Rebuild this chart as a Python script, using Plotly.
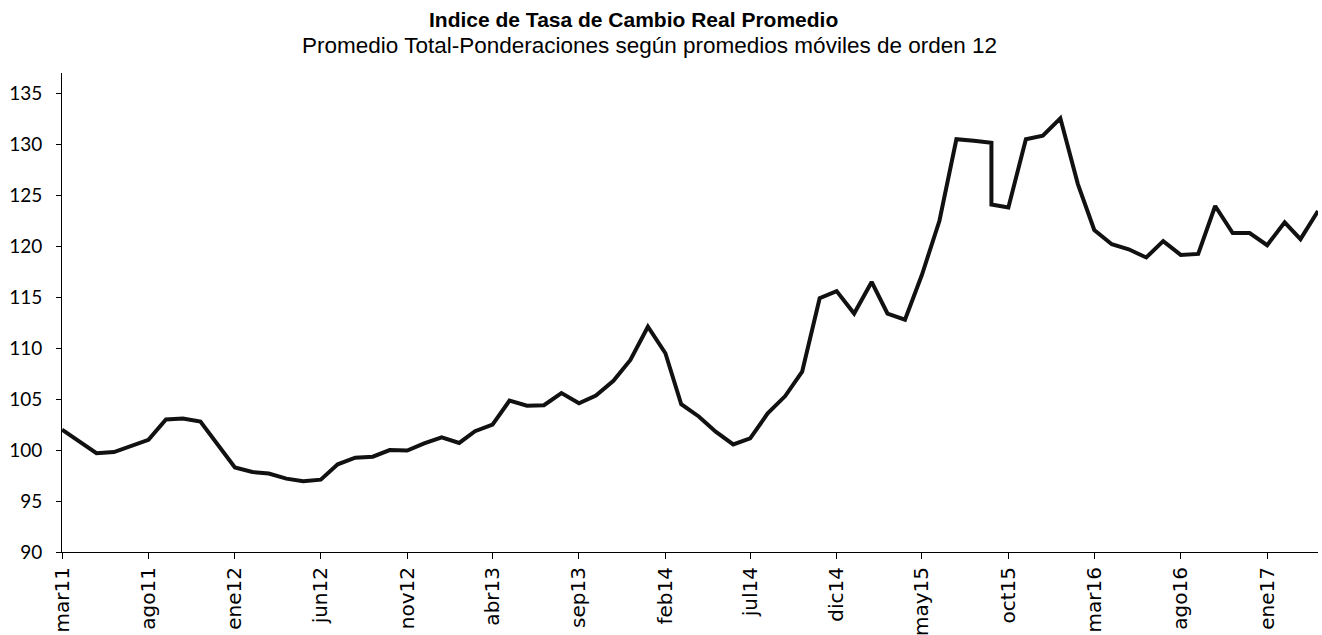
import plotly.graph_objects as go

# Periodos mensuales (sep-2015 aparece dos veces: cambio de nivel en el mismo mes)
periodos = [
    "2011-03", "2011-04", "2011-05", "2011-06", "2011-07", "2011-08", "2011-09", "2011-10", "2011-11", "2011-12",
    "2012-01", "2012-02", "2012-03", "2012-04", "2012-05", "2012-06", "2012-07", "2012-08", "2012-09", "2012-10",
    "2012-11", "2012-12", "2013-01", "2013-02", "2013-03", "2013-04", "2013-05", "2013-06", "2013-07", "2013-08",
    "2013-09", "2013-10", "2013-11", "2013-12", "2014-01", "2014-02", "2014-03", "2014-04", "2014-05", "2014-06",
    "2014-07", "2014-08", "2014-09", "2014-10", "2014-11", "2014-12", "2015-01", "2015-02", "2015-03", "2015-04",
    "2015-05", "2015-06", "2015-07", "2015-08", "2015-09", "2015-09", "2015-10", "2015-11", "2015-12", "2016-01",
    "2016-02", "2016-03", "2016-04", "2016-05", "2016-06", "2016-07", "2016-08", "2016-09", "2016-10", "2016-11",
    "2016-12", "2017-01", "2017-02", "2017-03", "2017-04",
]

# Indice de tipo de cambio real promedio
itcr = [
    102.0, 100.8, 99.7, 99.8, 100.35, 101.0, 103.0, 103.1, 102.8, 100.65,
    98.3, 97.85, 97.7, 97.2, 96.95, 97.1, 98.6, 99.25, 99.35, 100.0,
    99.95, 100.65, 101.25, 100.7, 101.85, 102.5, 104.85, 104.35, 104.4, 105.6,
    104.6, 105.35, 106.8, 108.85, 112.1, 109.5, 104.5, 103.3, 101.8, 100.55,
    101.15, 103.6, 105.3, 107.7, 114.9, 115.6, 113.4, 116.5, 113.4, 112.8,
    117.2, 122.5, 130.5, 130.35, 130.15, 124.1, 123.8, 130.5, 130.85, 132.55,
    126.1, 121.6, 120.2, 119.7, 118.9, 120.5, 119.15, 119.25, 123.95, 121.3,
    121.3, 120.1, 122.35, 120.7, 123.45,
]

# Marcas del eje horizontal (cada cinco meses)
marcas_fecha = [
    "2011-03", "2011-08", "2012-01", "2012-06", "2012-11", "2013-04", "2013-09", "2014-02",
    "2014-07", "2014-12", "2015-05", "2015-10", "2016-03", "2016-08", "2017-01",
]
marcas_texto = [
    "mar11", "ago11", "ene12", "jun12", "nov12", "abr13", "sep13", "feb14",
    "jul14", "dic14", "may15", "oct15", "mar16", "ago16", "ene17",
]

marcas_y = [90, 95, 100, 105, 110, 115, 120, 125, 130, 135]

fig = go.Figure()
fig.add_trace(go.Scatter(
    x=periodos,
    y=itcr,
    mode="lines",
    line=dict(color="#111111", width=4),
    showlegend=False,
))

fig.update_layout(
    width=1322,
    height=635,
    margin=dict(l=62, r=4, t=73, b=83, autoexpand=False),
    paper_bgcolor="white",
    plot_bgcolor="white",
    xaxis=dict(
        type="date",
        range=["2011-03-01", "2017-04-01"],
        automargin=False,
        tickmode="array",
        tickvals=marcas_fecha,
        ticktext=marcas_texto,
        tickangle=-90,
        ticks="outside",
        ticklen=6,
        tickcolor="black",
        showline=True,
        linecolor="black",
        linewidth=1,
        showgrid=False,
        zeroline=False,
        tickfont=dict(family="DejaVu Sans", size=20, color="black"),
    ),
    yaxis=dict(
        range=[90, 137],
        automargin=False,
        tickmode="array",
        tickvals=marcas_y,
        ticks="outside",
        ticklen=5,
        tickcolor="black",
        showline=True,
        linecolor="black",
        linewidth=1,
        showgrid=False,
        zeroline=False,
        ticklabelstandoff=10,
        tickfont=dict(family="Lato", size=19, color="black"),
    ),
    annotations=[
        dict(
            text="<b>Indice de Tasa de Cambio Real Promedio</b>",
            xref="paper", yref="paper",
            x=0.455, y=1.111,
            xanchor="center", yanchor="middle",
            showarrow=False,
            font=dict(family="Liberation Sans", size=21, color="black"),
        ),
        dict(
            text="Promedio Total-Ponderaciones según promedios móviles de orden 12",
            xref="paper", yref="paper",
            x=0.468, y=1.058,
            xanchor="center", yanchor="middle",
            showarrow=False,
            font=dict(family="Liberation Sans", size=22.5, color="black"),
        ),
    ],
)

fig.write_html("out.html")
